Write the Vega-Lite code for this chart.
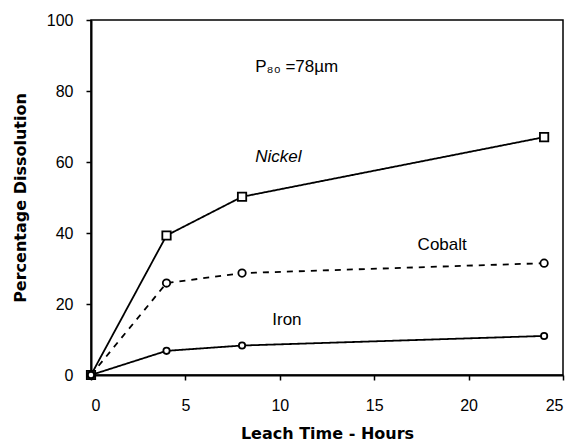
{
  "$schema": "https://vega.github.io/schema/vega-lite/v6.json",
  "width": 472,
  "height": 355,
  "autosize": "none",
  "padding": {"left": 91, "top": 20, "right": 10, "bottom": 71},
  "background": "white",
  "config": {
    "view": {"stroke": "black", "strokeWidth": 1.5},
    "font": "Liberation Sans",
    "axis": {"grid": false, "domainColor": "black", "domainWidth": 2, "tickColor": "black", "tickWidth": 1.5, "labelColor": "black", "titleColor": "black", "labelFont": "Liberation Sans", "titleFont": "DejaVu Sans"}
  },
  "datasets": {
    "series": [
      {"time": 0, "pct": 0, "metal": "Nickel"},
      {"time": 4, "pct": 39.3, "metal": "Nickel"},
      {"time": 8, "pct": 50.2, "metal": "Nickel"},
      {"time": 24, "pct": 67, "metal": "Nickel"},
      {"time": 0, "pct": 0, "metal": "Cobalt"},
      {"time": 4, "pct": 25.9, "metal": "Cobalt"},
      {"time": 8, "pct": 28.7, "metal": "Cobalt"},
      {"time": 24, "pct": 31.5, "metal": "Cobalt"},
      {"time": 0, "pct": 0, "metal": "Iron"},
      {"time": 4, "pct": 6.8, "metal": "Iron"},
      {"time": 8, "pct": 8.3, "metal": "Iron"},
      {"time": 24, "pct": 11, "metal": "Iron"}
    ],
    "labels": [
      {"time": 17.3, "pct": 36.6, "label": "Cobalt"},
      {"time": 9.6, "pct": 15.5, "label": "Iron"},
      {"time": 8.7, "pct": 86.8, "label": "P₈₀ =78µm"}
    ],
    "italic": [
      {"time": 8.7, "pct": 61.4, "label": "Nickel"}
    ]
  },
  "layer": [
    {
      "data": {"name": "series"},
      "mark": {"type": "line", "color": "black", "strokeWidth": 1.8},
      "encoding": {
        "x": {"field": "time", "type": "quantitative", "scale": {"domain": [0, 25], "nice": false, "zero": false},
          "axis": {"title": "Leach Time - Hours", "values": [0, 5, 10, 15, 20, 25], "tickSize": 5, "labelFontSize": 16, "labelPadding": 17, "titleFontSize": 16, "titleFontWeight": "bold", "titlePadding": 12}},
        "y": {"field": "pct", "type": "quantitative", "scale": {"domain": [0, 100], "nice": false},
          "axis": {"title": "Percentage Dissolution", "values": [0, 20, 40, 60, 80, 100], "tickSize": 5, "labelFontSize": 16, "labelPadding": 13, "titleFontSize": 16, "titleFontWeight": "bold", "titlePadding": 18}},
        "detail": {"field": "metal"},
        "strokeDash": {"field": "metal", "type": "nominal", "scale": {"domain": ["Nickel", "Cobalt", "Iron"], "range": [[1, 0], [6, 6], [1, 0]]}, "legend": null}
      }
    },
    {
      "data": {"name": "series"},
      "mark": {"type": "point", "filled": true, "fill": "white", "stroke": "black", "strokeWidth": 1.8, "opacity": 1},
      "encoding": {
        "x": {"field": "time", "type": "quantitative"},
        "y": {"field": "pct", "type": "quantitative"},
        "shape": {"field": "metal", "type": "nominal", "scale": {"domain": ["Nickel", "Cobalt", "Iron"], "range": ["square", "circle", "circle"]}, "legend": null},
        "size": {"field": "metal", "type": "nominal", "scale": {"domain": ["Nickel", "Cobalt", "Iron"], "range": [70, 40, 40]}, "legend": null}
      }
    },
    {
      "data": {"name": "labels"},
      "mark": {"type": "text", "align": "left", "baseline": "middle", "fontSize": 17, "color": "black"},
      "encoding": {
        "x": {"field": "time", "type": "quantitative"},
        "y": {"field": "pct", "type": "quantitative"},
        "text": {"field": "label"}
      }
    },
    {
      "data": {"name": "italic"},
      "mark": {"type": "text", "align": "left", "baseline": "middle", "fontSize": 17, "fontStyle": "italic", "color": "black"},
      "encoding": {
        "x": {"field": "time", "type": "quantitative"},
        "y": {"field": "pct", "type": "quantitative"},
        "text": {"field": "label"}
      }
    }
  ]
}
